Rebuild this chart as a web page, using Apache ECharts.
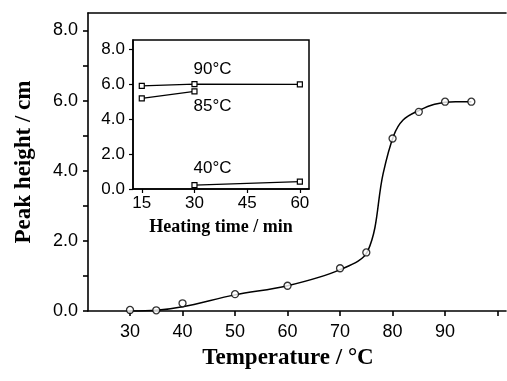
<!DOCTYPE html>
<html><head><meta charset="utf-8">
<script src="https://cdn.jsdelivr.net/npm/echarts@6/dist/echarts.min.js"></script>
<style>html,body{margin:0;padding:0;background:#fff}#c{width:507px;height:381px}</style>
</head><body><div id="c"></div>
<script>
// Main chart: measured points (open circles)
const tempPoints = [30, 35, 40, 50, 60, 70, 75, 80, 85, 90, 95];
const peakHeights = [0.03, 0.02, 0.22, 0.48, 0.72, 1.22, 1.67, 4.92, 5.68, 5.97, 5.97];
// Fitted curve
const curveX = [30, 35, 40, 50, 60, 70, 75.3, 78.2, 80.2, 82, 85, 88, 92, 95];
const curveY = [0.0, 0.02, 0.12, 0.46, 0.72, 1.18, 1.72, 3.92, 5.0, 5.45, 5.72, 5.9, 5.97, 5.97];
const mainXLabels = [30, 40, 50, 60, 70, 80, 90];
const mainXTicks = [30, 40, 50, 60, 70, 80, 90, 100];
const mainYLabels = [0, 2, 4, 6, 8];
const mainYTicks = [0, 1, 2, 3, 4, 5, 6, 7, 8];
// Inset: heating time
const heatTimes = [15, 30, 60];
const s90 = [5.92, 6.02, 6.0];
const s85 = [5.2, 5.6, null];
const s40 = [null, 0.22, 0.42];
const insetXLabels = [15, 30, 45, 60];
const insetYLabels = [0, 2, 4, 6, 8];

const sansFont = 'Liberation Sans';
const serifFont = 'Liberation Serif';
const pair = (xs, ys) => xs.map((x, i) => [x, ys[i]]);
const lbl = (pos, off, text) => ({show: true, position: pos, offset: off, formatter: text, fontFamily: sansFont, fontSize: 17, color: '#000'});
const withLabel = (arr, idx, label) => arr.map((d, i) => i === idx ? {value: d, label: label} : d);

const chart = echarts.init(document.getElementById('c'));
const axisLineStyle = {color: '#000', width: 1.6};
const insetLine = {color: '#000', width: 1.3};
const insetItem = {color: '#fff', borderColor: '#000', borderWidth: 1.2};
chart.setOption({
  animation: false,
  backgroundColor: '#fff',
  grid: [
    {left: 88, right: 1, top: 13, bottom: 70},
    {left: 133, right: 198, top: 40, bottom: 192, show: true, borderColor: '#000', borderWidth: 1.5, backgroundColor: '#fff', z: 5}
  ],
  xAxis: [
    {type: 'value', gridIndex: 0, min: 22, max: 101.6, position: 'bottom',
     axisLine: {lineStyle: axisLineStyle},
     axisTick: {show: true, length: 5, inside: false, customValues: mainXTicks, lineStyle: axisLineStyle},
     axisLabel: {customValues: mainXLabels, margin: 12, fontFamily: sansFont, fontSize: 18, color: '#000'},
     splitLine: {show: false},
     name: 'Temperature / °C', nameLocation: 'middle', nameGap: 36,
     nameTextStyle: {fontFamily: serifFont, fontWeight: 'bold', fontSize: 23, color: '#000', padding: [0, 18, 0, 0]}},
    {type: 'value', gridIndex: 0, min: 22, max: 101.6, position: 'top',
     axisLine: {show: true, lineStyle: axisLineStyle}, axisTick: {show: false}, axisLabel: {show: false}, splitLine: {show: false}},
    {type: 'value', gridIndex: 1, min: 12.5, max: 62.6,
     axisLine: {show: true, lineStyle: {color: '#000', width: 1.5}},
     axisTick: {show: true, length: 4, customValues: insetXLabels, lineStyle: {color: '#000', width: 1.2}},
     axisLabel: {customValues: insetXLabels, margin: 6, fontFamily: sansFont, fontSize: 17, color: '#000'},
     splitLine: {show: false},
     name: 'Heating time / min', nameLocation: 'middle', nameGap: 29,
     nameTextStyle: {fontFamily: serifFont, fontWeight: 'bold', fontSize: 18, color: '#000'}, z: 6}
  ],
  yAxis: [
    {type: 'value', gridIndex: 0, min: 0, max: 8.5,
     axisLine: {show: true, lineStyle: axisLineStyle},
     axisTick: {show: true, length: 5, customValues: mainYTicks, lineStyle: axisLineStyle},
     axisLabel: {customValues: mainYLabels, margin: 10, fontFamily: sansFont, fontSize: 18, color: '#000', formatter: v => v.toFixed(1)},
     splitLine: {show: false},
     name: 'Peak height / cm', nameLocation: 'middle', nameGap: 52,
     nameTextStyle: {fontFamily: serifFont, fontWeight: 'bold', fontSize: 23, color: '#000'}},
    {type: 'value', gridIndex: 1, min: 0, max: 8.55,
     axisLine: {show: true, lineStyle: {color: '#000', width: 1.5}},
     axisTick: {show: true, length: 4, customValues: insetYLabels, lineStyle: {color: '#000', width: 1.2}},
     axisLabel: {customValues: insetYLabels, margin: 8, fontFamily: sansFont, fontSize: 17, color: '#000', formatter: v => v.toFixed(1)},
     splitLine: {show: false}, z: 6}
  ],
  series: [
    {type: 'line', xAxisIndex: 0, yAxisIndex: 0, data: pair(curveX, curveY), smooth: 0.35,
     showSymbol: false, lineStyle: {color: '#000', width: 1.5}},
    {type: 'scatter', xAxisIndex: 0, yAxisIndex: 0, data: pair(tempPoints, peakHeights), symbol: 'circle', symbolSize: 7,
     itemStyle: {color: '#fff', borderColor: '#000', borderWidth: 1.3}, z: 3},
    {type: 'line', xAxisIndex: 2, yAxisIndex: 1, data: withLabel(pair(heatTimes, s90), 1, lbl('top', [18, 2], '90°C')),
     symbol: 'rect', symbolSize: 5, lineStyle: insetLine, itemStyle: insetItem, z: 7},
    {type: 'line', xAxisIndex: 2, yAxisIndex: 1, data: withLabel(pair(heatTimes, s85), 1, lbl('bottom', [18, -2], '85°C')),
     symbol: 'rect', symbolSize: 5, lineStyle: insetLine, itemStyle: insetItem, z: 7},
    {type: 'line', xAxisIndex: 2, yAxisIndex: 1, data: withLabel(pair(heatTimes, s40), 1, lbl('top', [18, 0], '40°C')),
     symbol: 'rect', symbolSize: 5, lineStyle: insetLine, itemStyle: insetItem, z: 7}
  ]
});
</script></body></html>
